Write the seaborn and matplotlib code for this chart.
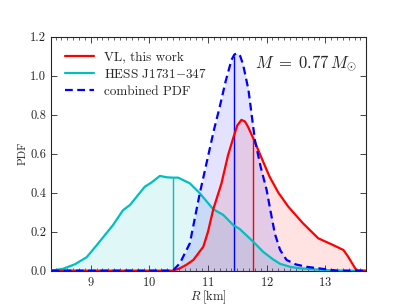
import numpy as np
import matplotlib
matplotlib.use("Agg")
import matplotlib.pyplot as plt
import seaborn as sns
from matplotlib.ticker import MultipleLocator

# HESS J1731-347 radius PDF
r_hess = [8.33, 8.53, 8.73, 8.93, 9.10, 9.38, 9.55, 9.67, 9.92, 10.04, 10.18, 10.29,
          10.40, 10.49, 10.69, 10.86, 11.09, 11.26, 11.43, 11.54, 11.77, 11.94,
          12.10, 12.23, 12.40, 12.57, 12.80, 13.02, 13.40, 13.70]
pdf_hess = [0.0, 0.01, 0.033, 0.069, 0.13, 0.234, 0.31, 0.337, 0.43, 0.453, 0.486, 0.479,
            0.477, 0.477, 0.448, 0.397, 0.315, 0.286, 0.234, 0.214, 0.149, 0.097,
            0.06, 0.035, 0.02, 0.012, 0.007, 0.003, 0.0, 0.0]

# VL, this work
r_vl = [8.33, 10.40, 10.52, 10.63, 10.75, 10.92, 11.0, 11.09, 11.23, 11.34, 11.43, 11.50,
        11.57, 11.63, 11.68, 11.77, 11.88, 11.96, 12.05, 12.20, 12.37, 12.62, 12.88,
        13.13, 13.31, 13.39, 13.51, 13.55, 13.70]
pdf_vl = [0.0, 0.0, 0.012, 0.03, 0.055, 0.123, 0.2, 0.315, 0.448, 0.59, 0.68, 0.745,
          0.773, 0.765, 0.739, 0.68, 0.602, 0.545, 0.482, 0.40, 0.328, 0.243, 0.166,
          0.132, 0.106, 0.072, 0.012, 0.0, 0.0]

# combined PDF
r_comb = [8.33, 10.40, 10.52, 10.69, 10.86, 11.0, 11.1, 11.2, 11.3, 11.40, 11.45, 11.50,
          11.55, 11.60, 11.69, 11.80, 11.90, 12.0, 12.07, 12.14, 12.23, 12.34, 12.50,
          12.68, 13.02, 13.2, 13.70]
pdf_comb = [0.0, 0.0, 0.038, 0.14, 0.397, 0.585, 0.72, 0.84, 0.97, 1.08, 1.108, 1.115,
            1.10, 1.055, 0.927, 0.67, 0.53, 0.414, 0.30, 0.19, 0.106, 0.055, 0.032,
            0.02, 0.007, 0.0, 0.0]

# marker positions (vertical lines)
r_mark_hess = 10.40
r_mark_vl = 11.77
r_mark_comb = 11.435

sns.set_style("ticks")
plt.rcParams["font.family"] = "serif"
plt.rcParams["font.serif"] = ["cmr10", "DejaVu Serif"]
plt.rcParams["mathtext.fontset"] = "cm"
plt.rcParams["axes.formatter.use_mathtext"] = True
plt.rcParams["axes.unicode_minus"] = False

fig, ax = plt.subplots(figsize=(4.07, 3.05), dpi=100)
fig.subplots_adjust(left=0.125, right=0.9, bottom=0.1125, top=0.88)

sns.lineplot(x=r_vl, y=pdf_vl, color="#ff0000", lw=1.6, ax=ax,
             label="VL, this work", zorder=4)
sns.lineplot(x=r_hess, y=pdf_hess, color="#00bfbf", lw=1.6, ax=ax,
             label=r"HESS J1731$-$347", zorder=3)
sns.lineplot(x=r_comb, y=pdf_comb, color="#0000ff", lw=1.6, ax=ax,
             label="combined PDF", zorder=5)
ax.lines[2].set_linestyle((0, (3.5, 2)))

ax.fill_between(r_hess, pdf_hess, color="#00bfbf", alpha=0.12, lw=0)
ax.fill_between(r_vl, pdf_vl, color="#ff0000", alpha=0.11, lw=0)
ax.fill_between(r_comb, pdf_comb, color="#0000ff", alpha=0.11, lw=0)

ax.vlines(r_mark_hess, 0, np.interp(r_mark_hess, r_hess, pdf_hess), color="#00bfbf", lw=1)
ax.vlines(r_mark_vl, 0, np.interp(r_mark_vl, r_vl, pdf_vl), color="#ff0000", lw=1)
ax.vlines(r_mark_comb, 0, np.interp(r_mark_comb, r_comb, pdf_comb), color="#0000ff", lw=1)

ax.set_xlim(8.32, 13.7)
ax.set_ylim(0, 1.2)
ax.xaxis.set_major_locator(MultipleLocator(1))
ax.xaxis.set_minor_locator(MultipleLocator(0.1))
ax.yaxis.set_major_locator(MultipleLocator(0.2))
ax.tick_params(which="both", direction="in", top=True, right=True, labelsize=9)
ax.tick_params(which="major", length=4, width=0.6)
ax.tick_params(which="minor", length=2, width=0.5)
ax.yaxis.set_major_formatter(matplotlib.ticker.FormatStrFormatter("%.1f"))
for s in ax.spines.values():
    s.set_linewidth(0.8)

ax.set_xlabel(r"$R\;[\mathrm{km}]$", fontsize=9, labelpad=0)
ax.set_ylabel("PDF", fontsize=8, labelpad=2)

ax.text(0.97, 0.93, r"$M\;=\;0.77\,M_{\odot}$", transform=ax.transAxes,
        ha="right", va="top", fontsize=12)

ax.legend(loc="upper left", frameon=False, fontsize=9.5, handlelength=2.2,
          borderaxespad=0.7, labelspacing=0.35, handletextpad=0.7)

plt.savefig("out.png", dpi=100)
